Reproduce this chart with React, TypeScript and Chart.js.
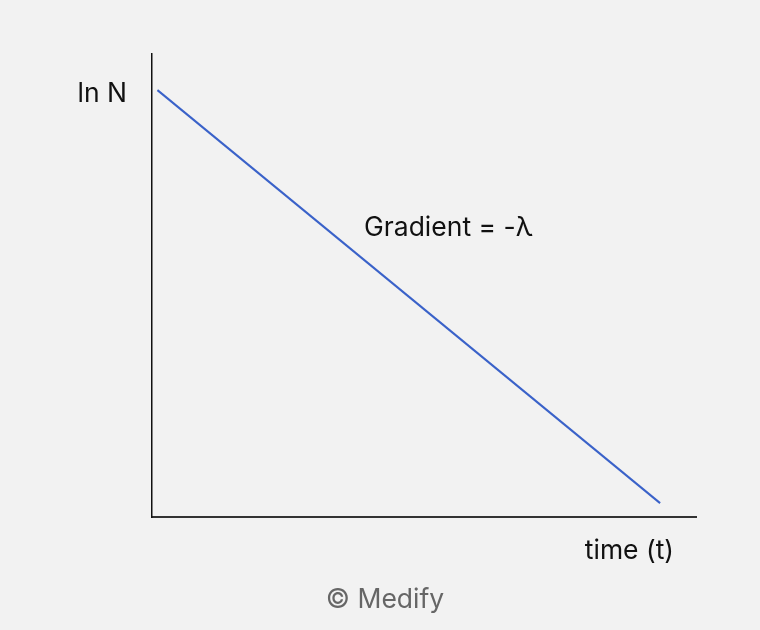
import React, { useEffect, useRef } from "react";
import { Chart, registerables } from "chart.js";

Chart.register(...registerables);

const lineX: number[] = [1, 93.4];
const lineY: number[] = [92.2, 3.0];
const yLabel = "ln N";
const xLabel = "time (t)";
const gradientLabel = "Gradient = -λ";
const credit = "© Medify";

const FONT = "Inter, Roboto, 'DejaVu Sans', sans-serif";

const textPlugin = {
  id: "texts",
  afterDraw(chart: any) {
    const ctx = chart.ctx as CanvasRenderingContext2D;
    ctx.save();
    ctx.textBaseline = "alphabetic";
    ctx.fillStyle = "#111111";
    ctx.font = `26.5px ${FONT}`;
    ctx.textAlign = "right";
    ctx.fillText(yLabel, 127, 102);
    ctx.textAlign = "left";
    ctx.fillText(gradientLabel, 364, 236);
    ctx.textAlign = "right";
    ctx.fillText(xLabel, 674, 559);
    ctx.textAlign = "center";
    ctx.fillStyle = "#666666";
    ctx.fillText(credit, 385, 608);
    ctx.restore();
  },
};

export default function App() {
  const ref = useRef<HTMLCanvasElement>(null);
  useEffect(() => {
    if (!ref.current) return;
    const chart = new Chart(ref.current, {
      type: "line",
      data: {
        datasets: [
          {
            data: lineX.map((x, i) => ({ x, y: lineY[i] })),
            borderColor: "#3a62c9",
            borderWidth: 2,
            pointRadius: 0,
            fill: false,
          },
        ],
      },
      options: {
        animation: false,
        responsive: false,
        maintainAspectRatio: false,
        layout: { padding: { left: 152, right: 64, top: 54, bottom: 113 } },
        plugins: { legend: { display: false }, tooltip: { enabled: false } },
        scales: {
          x: {
            type: "linear",
            min: 0,
            max: 100,
            ticks: { display: false },
            grid: { display: false, drawTicks: false },
            border: { display: true, color: "#333333", width: 2 },
          },
          y: {
            type: "linear",
            min: 0,
            max: 100,
            ticks: { display: false },
            grid: { display: false, drawTicks: false },
            border: { display: true, color: "#111111", width: 1.5 },
          },
        },
      },
      plugins: [textPlugin],
    });
    return () => chart.destroy();
  }, []);
  return (
    <div style={{ position: "fixed", left: 0, top: 0, width: 760, height: 630, background: "#f2f2f2" }}>
      <canvas ref={ref} width={760} height={630} style={{ display: "block" }} />
    </div>
  );
}
